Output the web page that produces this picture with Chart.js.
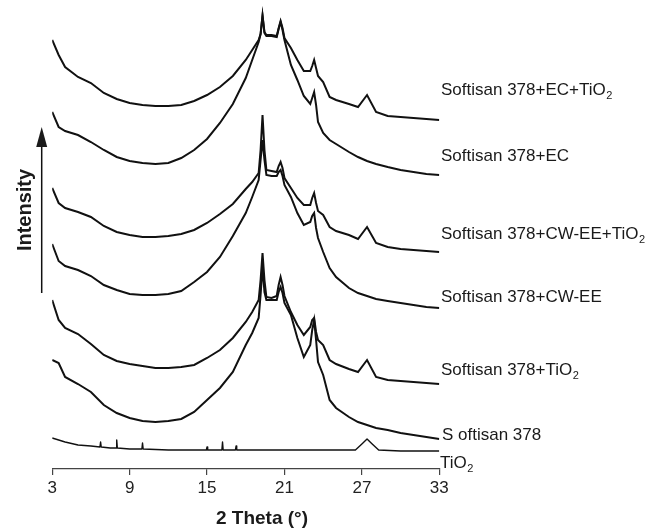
<!DOCTYPE html>
<html lang="en">
<head>
  <meta charset="UTF-8" />
  <title>XRD patterns</title>
  <style>
    html, body { margin: 0; padding: 0; background: #fff; }
    #wrap { width: 655px; height: 528px; position: relative; }
  </style>
</head>
<body>
  <div id="wrap"><canvas id="xrd-chart"></canvas></div>

  <script src="https://cdn.jsdelivr.net/npm/chart.js"></script>
  <script>
    // 2 theta positions shared by the six Softisan patterns
    const theta = [3, 3.5, 4, 5, 6, 7, 8, 9, 10, 11, 12, 13, 14, 15, 16, 17, 18, 18.5, 19, 19.15, 19.3, 19.45, 19.6, 20, 20.4, 20.55, 20.7, 20.85, 21, 21.5, 22, 22.5, 23, 23.15, 23.3, 23.45, 23.6, 24, 24.5, 25, 26, 26.7, 27.4, 28.1, 29, 30, 31, 32, 33];

    // intensities (arbitrary units, curves are stacked with their offset included)
    const ecTio2 = [429, 414, 402, 392, 386, 376, 370, 366, 364, 363, 363, 364, 368, 374, 382, 393, 409, 419, 429, 435, 454, 437, 434, 434, 433, 441, 448, 441, 431, 421, 409, 398, 398, 403, 409, 401, 393, 387, 372, 369, 365, 362, 374, 357, 353, 352, 351, 350, 349];
    const ec = [357, 342, 338, 334, 327, 319, 312, 308, 306, 305, 306, 311, 319, 330, 346, 365, 391, 409, 427, 435, 453, 436, 433, 433, 432, 440, 447, 439, 429, 404, 389, 373, 365, 371, 377, 364, 347, 336, 329, 325, 317, 312, 308, 305, 302, 299, 297, 295, 294];
    const cwTio2 = [281, 266, 261, 257, 252, 243, 237, 234, 232, 232, 233, 235, 239, 246, 255, 265, 280, 287, 296, 319, 354, 319, 299, 298, 297, 303, 307, 301, 291, 281, 271, 264, 264, 271, 276, 266, 258, 254, 242, 238, 234, 230, 242, 226, 222, 220, 219, 218, 217];
    const cw = [225, 208, 203, 199, 193, 184, 179, 175, 174, 174, 175, 178, 187, 197, 212, 233, 256, 272, 289, 309, 329, 309, 294, 293, 293, 297, 299, 293, 284, 272, 256, 244, 247, 253, 256, 241, 231, 217, 201, 192, 181, 176, 173, 170, 168, 166, 164, 162, 161];
    const sTio2 = [169, 149, 141, 135, 125, 114, 108, 105, 103, 101, 101, 102, 104, 111, 119, 131, 147, 157, 169, 189, 216, 189, 172, 171, 173, 184, 192, 184, 173, 157, 144, 134, 142, 149, 151, 137, 129, 124, 109, 105, 100, 97, 109, 92, 89, 88, 87, 86, 85];
    const softisan = [109, 106, 92, 85, 77, 64, 56, 51, 48, 47, 48, 50, 57, 69, 81, 97, 124, 136, 151, 174, 202, 177, 169, 169, 169, 177, 182, 176, 166, 154, 131, 112, 124, 139, 149, 129, 107, 94, 69, 61, 52, 47, 44, 41, 39, 36, 34, 32, 30];

    // pure TiO2 has its own sampling (narrow spikes + rutile peak)
    const tio2Theta = [3, 4, 5, 6, 6.7, 6.75, 6.8, 7.5, 7.95, 8.0, 8.05, 9, 9.95, 10.0, 10.05, 12, 14, 14.95, 15.0, 15.05, 16.15, 16.2, 16.25, 17.2, 17.25, 17.3, 20, 23, 25, 26.5, 27.0, 27.4, 27.8, 28.3, 30, 33];
    const tio2 = [31, 27, 24, 23, 22, 27, 22, 21, 21, 29, 21, 20, 20, 26, 20, 19, 19, 19, 22, 19, 19, 27, 19, 19, 23, 19, 19, 19, 19, 19, 25, 30, 25, 19, 18, 18];

    const seriesNames = ['Softisan 378+EC+TiO2', 'Softisan 378+EC', 'Softisan 378+CW-EE+TiO2',
                         'Softisan 378+CW-EE', 'Softisan 378+TiO2', 'S oftisan 378', 'TiO2'];
    const xTicks = [3, 9, 15, 21, 27, 33];

    const ys = [ecTio2, ec, cwTio2, cw, sTio2, softisan];
    const datasets = ys.map((arr, i) => ({
      label: seriesNames[i],
      data: theta.map((t, j) => ({ x: t, y: arr[j] })),
      borderColor: '#111',
      borderWidth: 2,
      pointRadius: 0,
      tension: 0
    }));
    datasets.push({
      label: seriesNames[6],
      data: tio2Theta.map((t, j) => ({ x: t, y: tio2[j] })),
      borderColor: '#111',
      borderWidth: 1.4,
      borderJoinStyle: 'round',
      pointRadius: 0,
      tension: 0
    });

    // where each curve name sits (left x, middle y, in canvas px)
    const labelPos = [[441, 90], [441, 156], [441, 234], [441, 297], [441, 370], [442, 435], [440, 463]];

    function drawName(ctx, text, x, y) {
      const m = text.match(/^(.*TiO)(2)$/);
      const main = m ? m[1] : text;
      ctx.font = '17px "Liberation Sans", Arial, sans-serif';
      ctx.textBaseline = 'middle';
      ctx.textAlign = 'left';
      ctx.fillText(main, x, y);
      if (m) {
        const w = ctx.measureText(main).width;
        ctx.font = '11px "Liberation Sans", Arial, sans-serif';
        ctx.fillText(m[2], x + w + 0.5, y + 6);
      }
    }

    const annotations = {
      id: 'annotations',
      afterDraw(chart) {
        const ctx = chart.ctx;
        ctx.save();
        ctx.fillStyle = '#1a1a1a';
        seriesNames.forEach((n, i) => drawName(ctx, n, labelPos[i][0], labelPos[i][1]));

        // intensity arrow
        ctx.strokeStyle = '#111';
        ctx.lineWidth = 1.5;
        ctx.beginPath();
        ctx.moveTo(41.7, 293);
        ctx.lineTo(41.7, 145);
        ctx.stroke();
        ctx.beginPath();
        ctx.moveTo(41.7, 127);
        ctx.lineTo(36.2, 147);
        ctx.lineTo(47.2, 147);
        ctx.closePath();
        ctx.fill();

        ctx.save();
        ctx.translate(25, 210);
        ctx.rotate(-Math.PI / 2);
        ctx.font = 'bold 20px "Liberation Sans", Arial, sans-serif';
        ctx.textAlign = 'center';
        ctx.textBaseline = 'middle';
        ctx.fillText('Intensity', 0, 0);
        ctx.restore();

        // x axis title
        ctx.font = 'bold 19px "Liberation Sans", Arial, sans-serif';
        ctx.textAlign = 'center';
        ctx.textBaseline = 'alphabetic';
        ctx.fillText('2 Theta (°)', 262, 524);
        ctx.restore();
      }
    };

    new Chart(document.getElementById('xrd-chart').getContext('2d'), {
      type: 'line',
      data: { datasets },
      options: {
        responsive: true,
        maintainAspectRatio: false,
        animation: false,
        layout: { padding: { left: 52.2, right: 215.7, top: 0, bottom: 0 } },
        plugins: { legend: { display: false }, tooltip: { enabled: false } },
        scales: {
          x: {
            type: 'linear',
            min: 3,
            max: 33,
            afterBuildTicks: s => { s.ticks = xTicks.map(v => ({ value: v })); },
            afterFit: s => { s.height = 59; },
            ticks: {
              color: '#222',
              padding: 3,
              maxRotation: 0,
              font: { family: '"Liberation Sans", Arial, sans-serif', size: 17 }
            },
            grid: { drawOnChartArea: false, drawTicks: true, tickLength: 6, color: '#444', lineWidth: 1.2 },
            border: { display: true, color: '#444', width: 1.2 }
          },
          y: { display: false, min: 0, max: 469 }
        }
      },
      plugins: [annotations]
    });
  </script>
</body>
</html>
